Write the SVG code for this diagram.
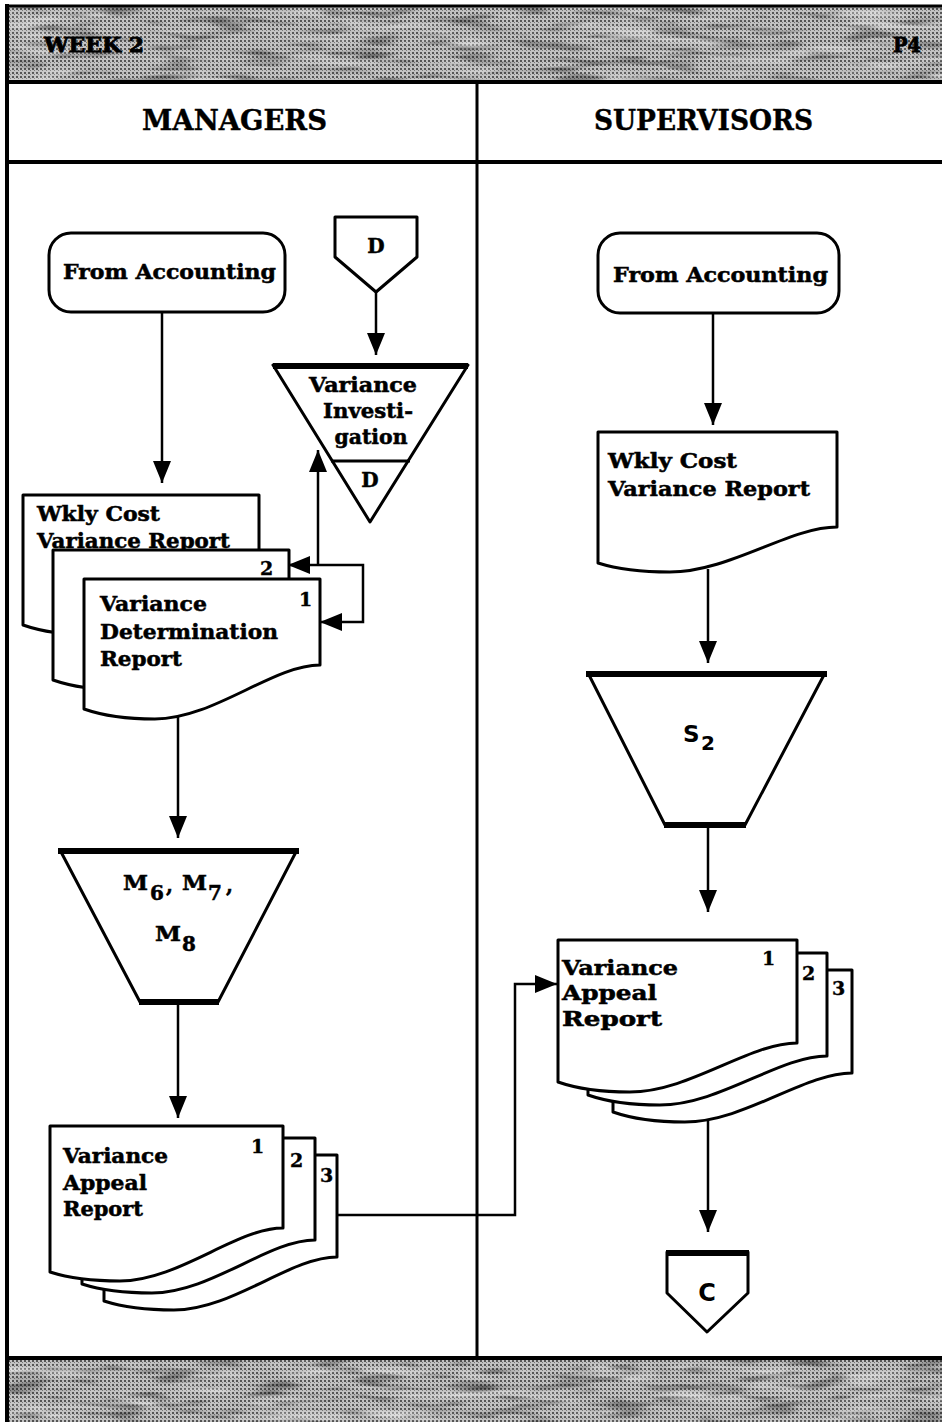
<svg xmlns="http://www.w3.org/2000/svg" width="942" height="1422" viewBox="0 0 942 1422">
  <defs>
    <style>
      .shape { fill: #fff; stroke: #000; stroke-width: 3; stroke-linejoin: round; }
      .edge { fill: none; stroke: #000; stroke-width: 6; stroke-linecap: butt; }
      .wire { fill: none; stroke: #000; stroke-width: 2.5; }
      .rule { stroke: #000; fill: none; }
      .lbl { font-family: "DejaVu Serif", "Liberation Serif", serif; font-weight: bold; font-size: 20px; fill: #000; stroke: #000; stroke-width: 0.5; }
      .num { font-family: "DejaVu Serif", "Liberation Serif", serif; font-weight: bold; font-size: 19px; fill: #000; stroke: #000; stroke-width: 0.4; }
      .hdr { font-family: "DejaVu Serif", "Liberation Serif", serif; font-weight: bold; font-size: 27px; fill: #000; stroke: #000; stroke-width: 0.4; }
      .tag { font-family: "DejaVu Serif", "Liberation Serif", serif; font-weight: bold; font-size: 20px; fill: #000; stroke: #000; stroke-width: 0.8; }
      .sans { font-family: "DejaVu Sans", "Liberation Sans", sans-serif; font-weight: bold; fill: #000; }
    </style>
    <marker id="arrow" viewBox="0 0 22 18" refX="22" refY="9" markerWidth="22" markerHeight="18" markerUnits="userSpaceOnUse" orient="auto">
      <path d="M0,0 L22,9 L0,18 Z" fill="#000"/>
    </marker>
    <pattern id="grain" width="4" height="4" patternUnits="userSpaceOnUse">
      <rect width="4" height="4" fill="#c2c2c2"/>
      <rect x="0" y="0" width="2" height="2" fill="#555"/>
      <rect x="2" y="2" width="1" height="1" fill="#777"/>
    </pattern>
    <filter id="mottle" x="0" y="0" width="1" height="1">
      <feTurbulence type="fractalNoise" baseFrequency="0.012 0.09" numOctaves="3" seed="7"/>
      <feColorMatrix type="matrix" values="0 0 0 0 1  0 0 0 0 1  0 0 0 0 1  1.4 0 0 0 -0.75"/>
    </filter>
    <filter id="shade" x="0" y="0" width="1" height="1">
      <feTurbulence type="fractalNoise" baseFrequency="0.02 0.12" numOctaves="2" seed="12"/>
      <feColorMatrix type="matrix" values="0 0 0 0 0  0 0 0 0 0  0 0 0 0 0  1.2 0 0 0 -0.6"/>
    </filter>
  </defs>

  <rect width="942" height="1422" fill="#fff"/>

  <!-- shaded title band and footer band -->
  <g id="bands">
    <rect x="7" y="7" width="940" height="74" fill="url(#grain)"/>
    <rect x="7" y="7" width="940" height="74" filter="url(#shade)"/>
    <rect x="7" y="7" width="940" height="74" filter="url(#mottle)"/>
    <rect x="7" y="1359" width="940" height="63" fill="url(#grain)"/>
    <rect x="7" y="1359" width="940" height="63" filter="url(#shade)"/>
    <rect x="7" y="1359" width="940" height="63" filter="url(#mottle)"/>
  </g>

  <!-- page frame and swim-lane rules -->
  <g id="frame" class="rule">
    <line x1="7" y1="4" x2="7" y2="1422" stroke-width="4"/>
    <line x1="5" y1="6" x2="942" y2="6" stroke-width="3"/>
    <line x1="5" y1="82" x2="942" y2="82" stroke-width="4"/>
    <line x1="5" y1="162" x2="942" y2="162" stroke-width="4"/>
    <line x1="477" y1="82" x2="477" y2="1358" stroke-width="3"/>
    <line x1="5" y1="1358" x2="942" y2="1358" stroke-width="4"/>
  </g>

  <g id="titles">
    <text class="tag" x="44" y="52" textLength="100" lengthAdjust="spacingAndGlyphs">WEEK 2</text>
    <text class="tag" x="893" y="52" textLength="28" lengthAdjust="spacingAndGlyphs">P4</text>
    <text class="hdr" x="142" y="130" textLength="185" lengthAdjust="spacingAndGlyphs">MANAGERS</text>
    <text class="hdr" x="594" y="130" textLength="219" lengthAdjust="spacingAndGlyphs">SUPERVISORS</text>
  </g>

  <!-- connectors -->
  <g id="connectors" class="wire">
    <path d="M162,312 V483" marker-end="url(#arrow)"/>
    <path d="M376,292 V355" marker-end="url(#arrow)"/>
    <path d="M318,565 V450" marker-end="url(#arrow)"/>
    <path d="M318,565 H288" marker-end="url(#arrow)"/>
    <path d="M318,565 H363 V622 H320" marker-end="url(#arrow)"/>
    <path d="M178,716 V838" marker-end="url(#arrow)"/>
    <path d="M178,1002 V1118" marker-end="url(#arrow)"/>
    <path d="M337,1215 H515 V984 H557" marker-end="url(#arrow)"/>
    <path d="M713,313 V425" marker-end="url(#arrow)"/>
    <path d="M708,569 V663" marker-end="url(#arrow)"/>
    <path d="M708,825 V912" marker-end="url(#arrow)"/>
    <path d="M708,1120 V1232" marker-end="url(#arrow)"/>
  </g>

  <!-- Managers lane -->
  <g id="mgr-from-accounting">
    <rect class="shape" x="49" y="233" width="236" height="79" rx="22"/>
    <text class="lbl" x="63" y="279" textLength="213" lengthAdjust="spacingAndGlyphs">From Accounting</text>
  </g>

  <g id="mgr-connector-d">
    <path class="shape" d="M335,217 H417 V257 L376,292 L335,257 Z"/>
    <text class="lbl" x="376" y="253" text-anchor="middle" font-size="22">D</text>
  </g>

  <g id="variance-investigation">
    <path class="shape" d="M273,365 H468 L370,522 Z"/>
    <line class="edge" x1="273" y1="366" x2="468" y2="366" stroke-width="5"/>
    <line class="rule" x1="331" y1="461" x2="410" y2="461" stroke-width="3"/>
    <text class="lbl" x="363" y="392" text-anchor="middle" textLength="108" lengthAdjust="spacingAndGlyphs">Variance</text>
    <text class="lbl" x="368" y="418" text-anchor="middle" textLength="90" lengthAdjust="spacingAndGlyphs">Investi-</text>
    <text class="lbl" x="371" y="444" text-anchor="middle" textLength="73" lengthAdjust="spacingAndGlyphs">gation</text>
    <text class="lbl" x="370" y="487" text-anchor="middle" font-size="22">D</text>
  </g>

  <g id="mgr-report-stack">
    <path class="shape" d="M23,495 H259 V585 C211.8,585 152.8,635 93.8,635 C58.4,635 37.2,630 23,625 Z"/>
    <text class="lbl" x="37" y="521" textLength="123" lengthAdjust="spacingAndGlyphs">Wkly Cost</text>
    <text class="lbl" x="37" y="548" textLength="193" lengthAdjust="spacingAndGlyphs">Variance Report</text>
    <path class="shape" d="M53,550 H289 V640 C241.8,640 182.8,690 123.8,690 C88.4,690 67.2,685 53,680 Z"/>
    <text class="num" x="260" y="575">2</text>
    <path class="shape" d="M84,579 H320 V665 C272.8,665 213.8,719 154.8,719 C119.4,719 98.2,714 84,709 Z"/>
    <text class="num" x="299" y="606">1</text>
    <text class="lbl" x="100" y="611" textLength="107" lengthAdjust="spacingAndGlyphs">Variance</text>
    <text class="lbl" x="100" y="639" textLength="178" lengthAdjust="spacingAndGlyphs">Determination</text>
    <text class="lbl" x="100" y="666" textLength="82" lengthAdjust="spacingAndGlyphs">Report</text>
  </g>

  <g id="mgr-manual-m6-m8">
    <path class="shape" d="M60,850 H297 L218,1002 H140 Z"/>
    <line class="edge" x1="58" y1="851" x2="299" y2="851"/>
    <line class="edge" x1="139" y1="1002" x2="219" y2="1002" stroke-width="4"/>
    <text class="lbl" font-size="21" x="123" y="890" textLength="25" lengthAdjust="spacingAndGlyphs">M</text>
    <text class="lbl" font-size="19" x="150" y="900">6</text>
    <text class="lbl" font-size="21" x="166" y="892">,</text>
    <text class="lbl" font-size="21" x="182" y="890" textLength="25" lengthAdjust="spacingAndGlyphs">M</text>
    <text class="lbl" font-size="19" x="208" y="900">7</text>
    <text class="lbl" font-size="21" x="226" y="892">,</text>
    <text class="lbl" font-size="21" x="155" y="941" textLength="26" lengthAdjust="spacingAndGlyphs">M</text>
    <text class="lbl" font-size="19" x="182" y="951">8</text>
  </g>

  <g id="mgr-appeal-stack">
    <path class="shape" d="M104,1155 H337 V1257 C290.4,1257 232.2,1310 173.9,1310 C139,1310 118,1305.5 104,1301 Z"/>
    <text class="num" x="320" y="1182">3</text>
    <path class="shape" d="M82,1138 H315 V1240 C268.4,1240 210.2,1293 151.9,1293 C117,1293 96,1288.5 82,1284 Z"/>
    <text class="num" x="290" y="1167">2</text>
    <path class="shape" d="M50,1126 H283 V1228 C236.4,1228 178.2,1281 119.9,1281 C85,1281 64,1276.5 50,1272 Z"/>
    <text class="num" x="251" y="1153">1</text>
    <text class="lbl" x="63" y="1163" textLength="105" lengthAdjust="spacingAndGlyphs">Variance</text>
    <text class="lbl" x="63" y="1190" textLength="84" lengthAdjust="spacingAndGlyphs">Appeal</text>
    <text class="lbl" x="63" y="1216" textLength="80" lengthAdjust="spacingAndGlyphs">Report</text>
  </g>

  <!-- Supervisors lane -->
  <g id="sup-from-accounting">
    <rect class="shape" x="598" y="233" width="241" height="80" rx="22"/>
    <text class="lbl" x="613" y="282" textLength="215" lengthAdjust="spacingAndGlyphs">From Accounting</text>
  </g>

  <g id="sup-weekly-report">
    <path class="shape" d="M598,432 H837 V527 C789.2,527 729.5,572 669.7,572 C633.9,572 612.3,567.5 598,563 Z"/>
    <text class="lbl" x="608" y="468" textLength="129" lengthAdjust="spacingAndGlyphs">Wkly Cost</text>
    <text class="lbl" x="608" y="496" textLength="202" lengthAdjust="spacingAndGlyphs">Variance Report</text>
  </g>

  <g id="sup-manual-s2">
    <path class="shape" d="M588,673 H825 L745,825 H665 Z"/>
    <line class="edge" x1="586" y1="674" x2="827" y2="674"/>
    <line class="edge" x1="664" y1="825" x2="746" y2="825" stroke-width="4"/>
    <text class="sans" font-size="23" x="683" y="742">S</text>
    <text class="sans" font-size="20" x="701" y="750">2</text>
  </g>

  <g id="sup-appeal-stack">
    <path class="shape" d="M613,970 H852 V1073 C804.2,1073 744.5,1122 684.7,1122 C648.9,1122 627.3,1117 613,1112 Z"/>
    <text class="num" x="832" y="995">3</text>
    <path class="shape" d="M588,953 H827 V1056 C779.2,1056 719.5,1105 659.7,1105 C623.9,1105 602.3,1100 588,1095 Z"/>
    <text class="num" x="802" y="980">2</text>
    <path class="shape" d="M558,940 H797 V1043 C749.2,1043 689.5,1092 629.7,1092 C593.9,1092 572.3,1087 558,1082 Z"/>
    <text class="num" x="762" y="965">1</text>
    <text class="lbl" x="562" y="975" textLength="116" lengthAdjust="spacingAndGlyphs">Variance</text>
    <text class="lbl" x="562" y="1000" textLength="95" lengthAdjust="spacingAndGlyphs">Appeal</text>
    <text class="lbl" x="562" y="1026" textLength="100" lengthAdjust="spacingAndGlyphs">Report</text>
  </g>

  <g id="sup-connector-c">
    <path class="shape" d="M667,1252 H748 V1293 L707,1332 L667,1293 Z"/>
    <line class="edge" x1="666" y1="1253" x2="749" y2="1253" stroke-width="5"/>
    <text class="sans" font-size="24" x="707" y="1301" text-anchor="middle" font-weight="normal">C</text>
  </g>
</svg>
